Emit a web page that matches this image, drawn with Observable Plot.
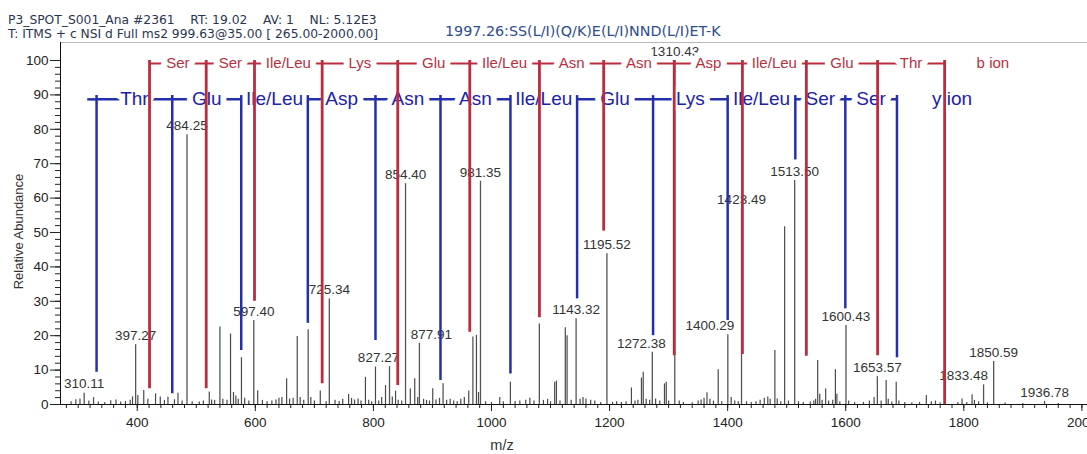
<!DOCTYPE html>
<html><head><meta charset="utf-8">
<script src="https://cdn.jsdelivr.net/npm/d3@7"></script>
<script src="https://cdn.jsdelivr.net/npm/@observablehq/plot@0.6"></script>
<style>
body{margin:0;background:#fff;}
#wrap{position:relative;width:1087px;height:454px;overflow:hidden;font-family:"Liberation Sans",Arial,sans-serif;}
#head{position:relative;height:42px;}
.h{position:absolute;white-space:pre;color:#2b3550;font-family:"DejaVu Sans",sans-serif;font-size:12.3px;line-height:12px;}
#title{position:absolute;left:445px;top:24px;font-family:"DejaVu Sans",sans-serif;font-size:14.3px;line-height:14px;color:#2e4d8f;white-space:pre;}
#chart svg{display:block;}
</style></head>
<body><div id="wrap"><div id="head">
<div class="h" id="h1" style="left:8px;top:14px"></div>
<div class="h" id="h2" style="left:8px;top:28px"></div>
<div id="title"></div>
</div><div id="chart"></div></div>
<script>
const headerLine1 = "P3_SPOT_S001_Ana #2361    RT: 19.02    AV: 1    NL: 5.12E3";
const headerLine2 = "T: ITMS + c NSI d Full ms2 999.63@35.00 [ 265.00-2000.00]";
const titleText = "1997.26:SS(L/I)(Q/K)E(L/I)NND(L/I)ET-K";

// unlabeled spectrum peaks: [m/z, relative abundance]
const peaks = [[288,0.8],[296,1.4],[303,1.6],[318,1.0],[326,2.0],[334,0.7],[345,0.6],[355,1.1],[364,1.3],[372,0.7],[380,0.9],[388,1.2],[392,2.2],[401,2.6],[411,4.1],[418,1.5],[431,3.1],[439,2.2],[446,1.2],[452,2.1],[463,1.4],[469,3.3],[476,1.0],[493,0.8],[505,0.7],[512,1.0],[522,3.6],[526,1.3],[531,1.2],[540,22.5],[545,1.5],[552,1.2],[558,20.5],[563,3.5],[567,2.5],[571,1.5],[576.5,13.6],[582,1.8],[589,1.0],[604,4.0],[612,1.2],[620,0.8],[628,1.0],[635,1.3],[640,1.8],[645,2.0],[653,7.5],[658,1.6],[664,1.8],[671,19.8],[676,2.0],[682,1.2],[689.5,21.7],[694,2.0],[700,1.0],[710,3.9],[720,0.8],[735,1.2],[742,0.9],[748,1.5],[758,2.9],[763,1.8],[768,1.3],[774,1.6],[779,1.0],[786.5,7.9],[792,1.2],[797,0.8],[803.5,10.9],[809,1.0],[814,2.0],[820.5,5.5],[832,2.2],[837.5,3.9],[842,1.2],[848,1.0],[862.5,4.5],[870,7.5],[875,2.0],[885,1.5],[890,1.2],[895,1.0],[900.5,4.6],[906,1.3],[912,1.8],[918,6.0],[924,1.2],[930,1.5],[936,1.0],[942,0.8],[948,1.5],[954,2.0],[961.5,3.9],[968.5,19.6],[974.5,20.1],[978,3.5],[990,0.8],[1000,0.6],[1014,2.0],[1020,0.8],[1032,6.5],[1040,0.9],[1048,1.0],[1058,1.2],[1065,1.8],[1072,1.0],[1081,23.4],[1088,1.2],[1095,1.5],[1100,0.8],[1107,6.5],[1110,6.8],[1116,1.0],[1125,22.3],[1128,20.0],[1135,1.2],[1150,1.5],[1155,2.0],[1160,1.6],[1168,1.2],[1175,1.0],[1185,0.6],[1205,0.6],[1212,0.8],[1220,0.6],[1228,0.8],[1237,4.8],[1243,1.0],[1248,1.2],[1254,7.7],[1257,9.4],[1262,1.5],[1268,1.2],[1278,1.6],[1285,1.0],[1293,6.0],[1296,6.5],[1300,1.0],[1318,1.0],[1325,0.6],[1340,0.5],[1350,1.0],[1355,1.3],[1360,1.8],[1365,3.4],[1370,1.5],[1376,1.0],[1384,10.1],[1390,0.8],[1406,2.0],[1412,1.0],[1418,0.8],[1432,0.8],[1440,0.6],[1448,0.8],[1455,1.2],[1462,1.8],[1468,2.2],[1472,1.5],[1480,15.7],[1484,1.6],[1490,0.8],[1496.5,51.7],[1503,1.0],[1520,0.8],[1528,0.6],[1540,0.7],[1546,1.0],[1549,1.5],[1552.5,12.8],[1556,3.0],[1560,1.2],[1566,4.5],[1571,1.0],[1578,1.2],[1582.5,10.1],[1585,3.0],[1590,0.8],[1605,1.0],[1615,0.6],[1630,0.6],[1640,1.0],[1648,2.0],[1660,1.0],[1668.5,7.0],[1672,1.5],[1678,0.7],[1685.5,6.5],[1690,1.0],[1700,0.6],[1712,0.5],[1725,0.6],[1736.5,2.6],[1745,0.8],[1752,1.0],[1760,0.5],[1790,0.6],[1797,1.6],[1805,0.6],[1814,2.8],[1818,1.2],[1825,0.8],[1840,0.5],[1870,0.4],[1900,0.3],[1960,0.3]];

// labeled peaks: [m/z, relative abundance]
const labeledPeaks = [[310.11,3.3],[397.27,17.4],[484.25,78.4],[597.40,24.4],[725.34,30.7],[827.27,11.0],[854.40,64.2],[877.91,17.8],[981.35,64.9],[1143.32,24.9],[1195.52,43.8],[1272.38,15.2],[1310.43,100],[1400.29,20.3],[1423.49,57],[1513.50,65.1],[1600.43,23.0],[1653.57,8.1],[1833.48,5.7],[1850.59,12.5],[1936.78,0.9]];

// b-ion ladder
const bIonMz = [420.8, 516.8, 598.6, 713.2, 841.2, 963.2, 1081.2, 1190.0, 1309.5, 1425.0, 1533.3, 1654.0, 1767.5];
const bIonEnd = [4.6, 4.6, 30, 6, 5.5, 21, 25.2, 50.4, 14.2, 14.5, 14, 14.2, 0];
const bIonResidues = ["Ser","Ser","Ile/Leu","Lys","Glu","Ile/Leu","Asn","Asn","Asp","Ile/Leu","Glu","Thr"];

// y-ion ladder
const yIonMz = [331.1, 459.3, 576.1, 688.9, 803.5, 913.6, 1032.1, 1145.0, 1273.7, 1400.0, 1514.6, 1599.3, 1686.8];
const yIonEnd = [9.4, 3.1, 15.7, 23.6, 18.6, 7.0, 8.9, 30.7, 20.0, 24.4, 71.1, 27.8, 13.6];
const yIonResidues = ["Thr","Glu","Ile/Leu","Asp","Asn","Asn","Ile/Leu","Glu","Lys","Ile/Leu","Ser","Ser"];

const xMajorTicks = d3.range(400, 2001, 200);
const xMinorTicks = d3.range(280, 2001, 20);
const yMajorTicks = d3.range(0, 101, 10);
const yMinorTicks = d3.range(0, 101, 2);

document.getElementById("h1").textContent = headerLine1;
document.getElementById("h2").textContent = headerLine2;
document.getElementById("title").textContent = titleText;

const yMaxAbundance = 105.23;
const RED = "#bb2c40", RED_TXT = "#b8303f", BLUE = "#2430ab", BLUE_TXT = "#1e22a6";
const bRow = 99.1, bTop = 100.0, yRow = 88.7, yTop = 89.8;

const bLines = bIonMz.map((mz, i) => ({mz, end: bIonEnd[i]}));
const yLines = yIonMz.map((mz, i) => ({mz, end: yIonEnd[i]}));
const bLinks = bIonResidues.map((r, i) => ({x1: bIonMz[i], x2: bIonMz[i+1], mid: (bIonMz[i] + bIonMz[i+1]) / 2, label: r}));
const yLinks = yIonResidues.map((r, i) => ({x1: yIonMz[i], x2: yIonMz[i+1], mid: (yIonMz[i] + yIonMz[i+1]) / 2, label: r}));
const yStub = [{x1: yIonMz[0] - 15, x2: yIonMz[0]}];

const labelNudge = new Map([[827.27, -11], [877.91, 12], [1272.38, -11], [1400.29, -18], [1833.48, -20]]);
const labelMarks = d3.groups(labeledPeaks, d => labelNudge.get(d[0]) ?? 0).map(([dx, arr]) =>
  Plot.text(arr, {x: d => d[0], y: d => d[1], text: d => d[0].toFixed(2), dy: -9, dx, fill: "#333", fontSize: 13.5}));

const chart = Plot.plot({
  width: 1087, height: 412,
  marginTop: 0, marginBottom: 50, marginLeft: 60, marginRight: 0,
  x: {domain: [270, 2009.5]},
  y: {domain: [0, yMaxAbundance]},
  style: {fontFamily: "'Liberation Sans', Arial, sans-serif", fontSize: "13.5px", color: "#222", background: "white", overflow: "visible"},
  marks: [
    Plot.ruleY([yMaxAbundance], {stroke: "#b8b8b8"}),
    Plot.ruleX(peaks, {x: d => d[0], y: d => d[1], stroke: "#4a4a4a", strokeWidth: 1.2}),
    Plot.ruleX(labeledPeaks, {x: d => d[0], y: d => d[1], stroke: "#555", strokeWidth: 1.3}),
    ...labelMarks,
    Plot.ruleY(bLinks, {x1: "x1", x2: "x2", y: bRow, stroke: RED, strokeWidth: 2}),
    Plot.ruleY(yLinks, {x1: "x1", x2: "x2", y: yRow, stroke: BLUE, strokeWidth: 2.5}),
    Plot.ruleY(yStub, {x1: "x1", x2: "x2", y: yRow, stroke: BLUE, strokeWidth: 2.5}),
    Plot.text(bLinks, {x: "mid", y: bRow, text: "label", fill: RED_TXT, stroke: "white", strokeWidth: 12, fontSize: 15}),
    Plot.text(yLinks, {x: "mid", y: yRow, text: "label", fill: BLUE_TXT, stroke: "white", strokeWidth: 12, fontSize: 19}),
    Plot.text([bIonMz[bIonMz.length - 1]], {x: d => d, y: bRow, text: () => "b ion", textAnchor: "start", dx: 32, fill: RED_TXT, fontSize: 15}),
    Plot.text([yIonMz[yIonMz.length - 1]], {x: d => d, y: yRow, text: () => "y ion", textAnchor: "start", dx: 35, fill: BLUE_TXT, fontSize: 19}),
    Plot.ruleX(yLines, {x: "mz", y1: "end", y2: yTop, stroke: BLUE, strokeWidth: 2.5}),
    Plot.ruleX(bLines, {x: "mz", y1: "end", y2: bTop, stroke: RED, strokeWidth: 2.8}),
    Plot.axisY(yMajorTicks, {tickSize: 10, tickPadding: 2, label: null, stroke: "#222"}),
    Plot.axisY(yMinorTicks, {tickSize: 5, tickFormat: () => "", label: null, stroke: "#222"}),
    Plot.axisX(xMajorTicks, {tickSize: 7, tickPadding: 6, label: null, stroke: "#222", tickFormat: d => String(d)}),
    Plot.axisX(xMinorTicks, {tickSize: 4, tickFormat: () => "", label: null, stroke: "#222"}),
    Plot.ruleX([270], {stroke: "#111"}),
    Plot.ruleY([0], {stroke: "#111", strokeWidth: 1.2}),
    Plot.text(["Relative Abundance"], {text: d => d, frameAnchor: "left", textAnchor: "middle", lineAnchor: "middle", dx: -42, dy: 8, rotate: -90, fontSize: 13, fill: "#333"}),
    Plot.text(["m/z"], {text: d => d, frameAnchor: "bottom", textAnchor: "middle", lineAnchor: "middle", dx: -72, dy: 41, fontSize: 14.5, fill: "#333"})
  ]
});
document.getElementById("chart").appendChild(chart);
</script>
</body></html>
